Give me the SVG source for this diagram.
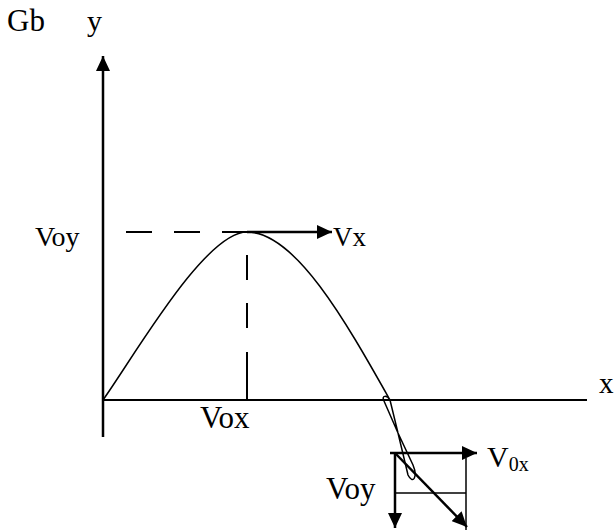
<svg xmlns="http://www.w3.org/2000/svg" width="616" height="531" viewBox="0 0 616 531">
<style>
text{font-family:"Liberation Serif","Times New Roman",serif;fill:#000}
.ax{stroke:#000;stroke-width:2;fill:none}
.thin{stroke:#000;stroke-width:1.5;fill:none}
.dash{stroke:#000;stroke-width:2;fill:none}
.arr{stroke:#000;stroke-width:2.5;fill:none;marker-end:url(#ah)}
</style>
<defs>
<marker id="ah" viewBox="0 0 15 14" refX="15" refY="7" markerWidth="15" markerHeight="14" markerUnits="userSpaceOnUse" orient="auto">
<path d="M0,0 L15,7 L0,14 z" fill="#000"/>
</marker>
</defs>
<rect width="616" height="531" fill="#fff"/>
<g id="connectors">
<line class="arr" x1="103" y1="437" x2="103" y2="56"/>
<line class="ax" x1="103" y1="400" x2="587" y2="400"/>
<line class="dash" x1="126" y1="232" x2="152" y2="232"/>
<line class="dash" x1="174" y1="232" x2="200" y2="232"/>
<line class="dash" x1="222" y1="232" x2="247" y2="232"/>
<line class="arr" x1="247" y1="232" x2="332" y2="232"/>
<line class="dash" x1="247" y1="255" x2="247" y2="280"/>
<line class="dash" x1="247" y1="303" x2="247" y2="328"/>
<line class="dash" x1="247" y1="352" x2="247" y2="400"/>
<path class="thin" d="M103,400 C135,355 205,232 247,232 C295,232 345,320 390,400 L398,433 L413,465 C418,477 413,485 408,475 L398,433 L384,401 C381,395 387,395 390,400"/>
<line class="arr" x1="390" y1="453" x2="477" y2="453"/>
<line class="arr" x1="395" y1="453" x2="395" y2="528"/>
<line class="thin" x1="466" y1="458" x2="466" y2="530"/>
<line class="thin" x1="395" y1="493" x2="466" y2="493"/>
<line class="arr" x1="395" y1="453" x2="467" y2="527"/>
</g>
<g id="labels">
<text x="7" y="31" font-size="31">Gb</text>
<text x="87" y="31" font-size="30">y</text>
<text x="35" y="246" font-size="28">Voy</text>
<text x="333" y="246" font-size="27">Vx</text>
<text x="200" y="428" font-size="31">Vox</text>
<text x="599" y="393" font-size="29">x</text>
<text x="487" y="467" font-size="30">V<tspan font-size="20" dy="4">0x</tspan></text>
<text x="326" y="499" font-size="31">Voy</text>
</g>
</svg>
